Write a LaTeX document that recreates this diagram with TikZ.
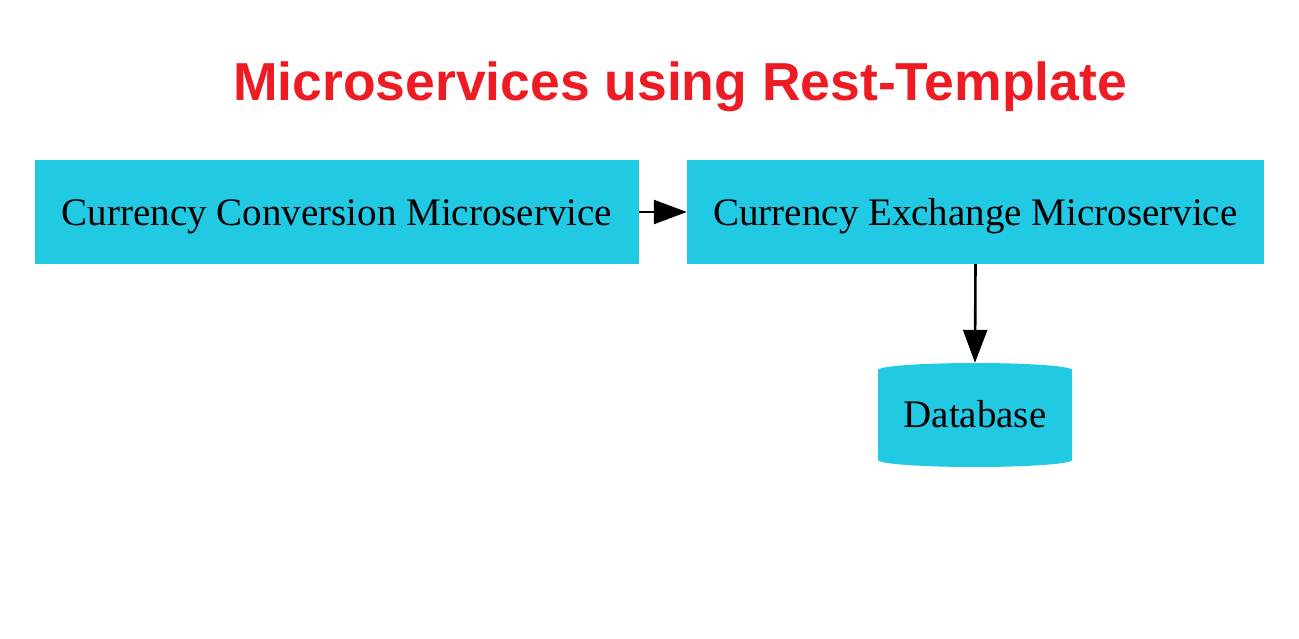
\documentclass[tikz,border=0pt]{standalone}
\usepackage{fontspec}
\setmainfont{Liberation Serif}
\newfontfamily\titlefont{Liberation Sans}
\usetikzlibrary{arrows.meta}
\definecolor{boxcyan}{RGB}{33,201,227}
\definecolor{titlered}{RGB}{237,28,36}
\tikzset{
  svcbox/.style={fill=boxcyan,draw=none,inner sep=0pt,text height=30pt,text depth=4pt,font=\fontsize{39}{46}\selectfont},
  dbnode/.style={draw=none,inner sep=0pt,text height=28pt,text depth=4pt,font=\fontsize{39}{46}\selectfont},
  conn/.style={line width=2.6pt,-{Triangle[length=33pt,width=24pt]}}
}
\begin{document}
\begin{tikzpicture}[x=1pt,y=-1pt]
\useasboundingbox (0,0) rectangle (1299,638);
\node[font=\titlefont\bfseries\fontsize{53.5}{60}\selectfont,text=titlered,anchor=base] (title) at (680,100) {Microservices using Rest-Template};
\node[svcbox,minimum width=604pt,minimum height=104pt] (conv) at (337,212) {Currency Conversion Microservice};
\node[svcbox,minimum width=577pt,minimum height=104pt] (exch) at (975.5,212) {Currency Exchange Microservice};
% database cylinder body
\fill[boxcyan] (878,370) arc[start angle=180,end angle=360,x radius=97,y radius=7]
  -- (1072,460) arc[start angle=0,end angle=180,x radius=97,y radius=7] -- cycle;
\node[dbnode,minimum width=194pt,minimum height=104pt] (db) at (975,415) {Database};
\draw[conn] (conv.east) -- (exch.west);
\draw[conn] (exch.south) -- (db.north);
\end{tikzpicture}
\end{document}
